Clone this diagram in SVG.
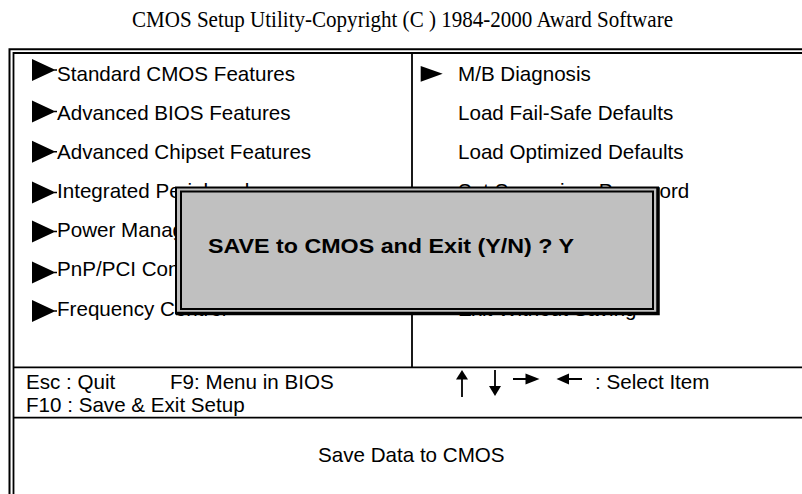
<svg xmlns="http://www.w3.org/2000/svg" width="802" height="494" viewBox="0 0 802 494">
<style>
.t{font-family:"Liberation Sans",Arial,sans-serif;font-size:20.6px;fill:#000}
.title{font-family:"Liberation Serif","Times New Roman",serif;font-size:24px;fill:#000}
.b{font-family:"Liberation Sans",Arial,sans-serif;font-size:21px;font-weight:bold;fill:#000}
.ln{stroke:#000;fill:none}
</style>
<defs>
<path id="tri" d="M0,-11 L22,-0.7 H25 V0.7 H22 L0,11Z" fill="#000"/>
</defs>
<rect width="802" height="494" fill="#fff"/>
<g id="title">
<text class="title" x="132" y="26.5" textLength="541" lengthAdjust="spacingAndGlyphs">CMOS Setup Utility-Copyright (C ) 1984-2000 Award Software</text>
</g>
<g id="frame">
<path class="ln" d="M9.5,494 V49.3 H802" stroke-width="2"/>
<path class="ln" d="M13.5,494 V53 H802" stroke-width="1.8"/>
<path class="ln" d="M412,53 V367.3" stroke-width="1.8"/>
<path class="ln" d="M13.5,367.3 H802 M13.5,417.7 H802" stroke-width="1.8"/>
</g>
<g id="menu-left">
<use href="#tri" x="32" y="70"/>
<text class="t" x="57" y="80.7">Standard CMOS Features</text>
<use href="#tri" x="32" y="111.5"/>
<text class="t" x="57" y="120">Advanced BIOS Features</text>
<use href="#tri" x="32" y="151.7"/>
<text class="t" x="57" y="159">Advanced Chipset Features</text>
<use href="#tri" x="32" y="192.5"/>
<text class="t" x="57" y="198.3">Integrated Peripherals</text>
<use href="#tri" x="32" y="231.5"/>
<text class="t" x="57" y="236.7">Power Manag</text>
<use href="#tri" x="32" y="272.5"/>
<text class="t" x="57" y="275.7">PnP/PCI Con</text>
<use href="#tri" x="32" y="311"/>
<text class="t" x="57" y="315.5">Frequency Control</text>
</g>
<g id="menu-right">
<polygon points="420.7,66 442.7,73.8 420.7,81.7" fill="#000"/>
<text class="t" x="458" y="80.7">M/B Diagnosis</text>
<text class="t" x="458" y="120">Load Fail-Safe Defaults</text>
<text class="t" x="458" y="159">Load Optimized Defaults</text>
<text class="t" x="458" y="198.3">Set Supervisor Password</text>
<text class="t" x="458" y="315.5">Exit Without Saving</text>
</g>
<g id="dialog">
<rect x="176" y="187.5" width="482" height="126" fill="#c0c0c0" stroke="#000" stroke-width="2"/>
<path class="ln" d="M658,187.5 V313.5 H176" stroke-width="3.5"/>
<rect x="181" y="191.5" width="472" height="117.5" fill="none" stroke="#000" stroke-width="2"/>
<text class="b" x="208" y="253.3" textLength="366" lengthAdjust="spacingAndGlyphs">SAVE to CMOS and Exit (Y/N) ? Y</text>
</g>
<g id="footer">
<text class="t" x="26" y="389">Esc : Quit</text>
<text class="t" x="170" y="389">F9: Menu in BIOS</text>
<g id="arrows" fill="#000">
<path class="ln" d="M462,378 V397 M495,370 V387 M513,379 H527 M567,379 H582" stroke-width="1.8"/>
<polygon points="462,370 456,379.5 468,379.5"/>
<polygon points="489,386 501,386 495,396"/>
<polygon points="525.5,373.5 525.5,384.5 539.5,379"/>
<polygon points="556.5,379 569,373.5 569,384.5"/>
</g>
<text class="t" x="595" y="389">: Select Item</text>
<text class="t" x="26" y="411.5">F10 : Save &amp; Exit Setup</text>
<text class="t" x="318" y="461.7">Save Data to CMOS</text>
</g>
</svg>
